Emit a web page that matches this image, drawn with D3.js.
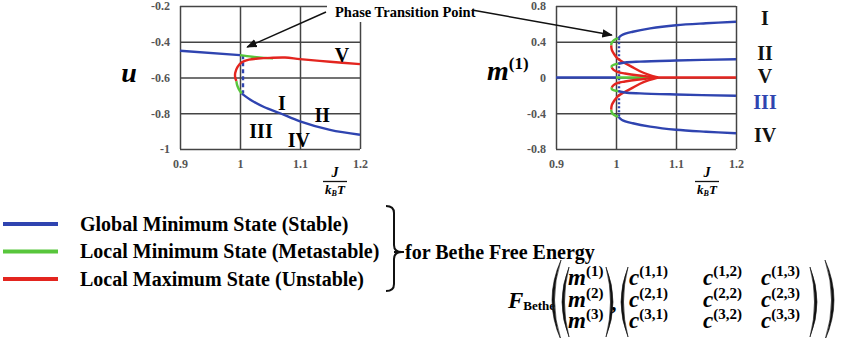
<!DOCTYPE html>
<html>
<head>
<meta charset="utf-8">
<script src="https://cdn.jsdelivr.net/npm/d3@7"></script>
<style>
  body { margin: 0; background: #fff; }
  svg { display: block; }
  text { font-family: "Liberation Serif", "Times New Roman", serif; }
  .tick text { font-size: 12px; font-weight: bold; fill: #555; font-family: "Liberation Serif", serif; }
  .tick line { stroke: #444; stroke-width: 1.5; }
</style>
</head>
<body>
<svg id="chart" width="853" height="338"></svg>
<script>
const xTicks = [0.9, 1, 1.1, 1.2];
const uTicks = [-1, -0.8, -0.6, -0.4, -0.2];
const mTicks = [-0.8, -0.4, 0, 0.4, 0.8];

// u vs J/kBT
const uStable = [[0.9, -0.45], [1.0, -0.475]];
const uStableOrdered = [[1.003, -0.69], [1.02, -0.73], [1.04, -0.765], [1.067, -0.8], [1.1, -0.845], [1.15, -0.893], [1.2, -0.92]];
const uMetaPara = [[1.0, -0.475], [1.02, -0.484], [1.04, -0.49], [1.055, -0.492]];
const uMetaOrdered = [[1.003, -0.69], [0.998, -0.665], [0.995, -0.64], [0.994, -0.62]];
const uUnstable = [[0.994, -0.62], [0.992, -0.6], [0.992, -0.575], [0.996, -0.54], [1.003, -0.515], [1.015, -0.5], [1.03, -0.494], [1.05, -0.49], [1.075, -0.488], [1.1, -0.497], [1.15, -0.512], [1.2, -0.525]];
const uJump = [[1.005, -0.475], [1.005, -0.69]];

// m(1) vs J/kBT
const mZeroStable = [[0.9, 0], [1.0, 0]];
const mZeroMeta = [[1.0, 0], [1.07, 0]];
const mZeroUnstable = [[1.07, 0], [1.2, 0]];
const mBranchI = [[1.004, 0.44], [1.01, 0.475], [1.028, 0.512], [1.057, 0.55], [1.1, 0.585], [1.15, 0.607], [1.2, 0.624]];
const mBranchII = [[1.004, 0.152], [1.015, 0.168], [1.04, 0.178], [1.1, 0.19], [1.2, 0.205]];
const mBranchIII = [[1.004, -0.152], [1.015, -0.168], [1.04, -0.178], [1.1, -0.19], [1.2, -0.205]];
const mBranchIV = [[1.004, -0.44], [1.01, -0.475], [1.028, -0.512], [1.057, -0.55], [1.1, -0.585], [1.15, -0.607], [1.2, -0.624]];
const mMetaI = [[1.004, 0.44], [0.997, 0.42], [0.993, 0.39], [0.992, 0.36]];
const mMetaII = [[1.004, 0.152], [0.997, 0.145], [0.993, 0.13], [0.993, 0.11]];
const mMetaIII = [[1.004, -0.152], [0.997, -0.145], [0.993, -0.13], [0.993, -0.11]];
const mMetaIV = [[1.004, -0.44], [0.997, -0.42], [0.993, -0.39], [0.992, -0.36]];
const mUnstA = [[0.992, 0.36], [0.993, 0.31], [0.997, 0.26], [1.003, 0.21], [1.012, 0.17], [1.025, 0.125], [1.04, 0.07], [1.055, 0.03], [1.07, 0]];
const mUnstB = [[0.993, 0.11], [0.996, 0.085], [1.003, 0.06], [1.015, 0.045], [1.035, 0.025], [1.055, 0.01], [1.07, 0]];
const mUnstC = [[0.993, -0.11], [0.996, -0.085], [1.003, -0.06], [1.015, -0.045], [1.035, -0.025], [1.055, -0.01], [1.07, 0]];
const mUnstD = [[0.992, -0.36], [0.993, -0.31], [0.997, -0.26], [1.003, -0.21], [1.012, -0.17], [1.025, -0.125], [1.04, -0.07], [1.055, -0.03], [1.07, 0]];
const mJump = [[1.005, 0.44], [1.005, -0.44]];

const leftLabels = [["V", 1.17, -0.513], ["I", 1.07, -0.782], ["II", 1.137, -0.849], ["III", 1.035, -0.938], ["IV", 1.098, -0.989]];
const rightLabels = [["I", 0.666], ["II", 0.274], ["V", 0.017], ["III", -0.274], ["IV", -0.643]];
const legendItems = ["Global Minimum State (Stable)", "Local Minimum State (Metastable)", "Local Maximum State (Unstable)"];

const blue = "#2f44b0", green = "#58c63c", red = "#e3251f";

const svg = d3.select("#chart");

const xL = d3.scaleLinear().domain([0.9, 1.2]).range([180, 360]);
const yL = d3.scaleLinear().domain([-1, -0.2]).range([149, 6]);
const xR = d3.scaleLinear().domain([0.9, 1.2]).range([556, 736]);
const yR = d3.scaleLinear().domain([-0.8, 0.8]).range([149, 6]);

function drawAxes(x, y, yt) {
    const g = svg.append("g");
    g.append("g")
        .attr("transform", `translate(0,${y.range()[0]})`)
        .call(d3.axisBottom(x).tickValues(xTicks).tickSize(-(y.range()[0] - y.range()[1])).tickPadding(10).tickFormat(d => String(d)))
        .call(a => a.select(".domain").remove());
    g.append("g")
        .attr("transform", `translate(${x.range()[0]},0)`)
        .call(d3.axisLeft(y).tickValues(yt).tickSize(-(x.range()[1] - x.range()[0])).tickPadding(10).tickFormat(d => String(d)))
        .call(a => a.select(".domain").remove());
}

drawAxes(xL, yL, uTicks);
drawAxes(xR, yR, mTicks);

function curves(x, y, sets, color, dash) {
    const line = d3.line().x(d => x(d[0])).y(d => y(d[1])).curve(d3.curveCatmullRom.alpha(0.5));
    svg.append("g").selectAll("path")
        .data(sets)
        .enter().append("path")
        .attr("d", line)
        .attr("fill", "none")
        .attr("stroke", color)
        .attr("stroke-width", 2.4)
        .attr("stroke-dasharray", dash || null);
}

// left panel
curves(xL, yL, [uJump], blue, "4,3");
curves(xL, yL, [uMetaPara, uMetaOrdered], green);
curves(xL, yL, [uUnstable], red);
curves(xL, yL, [uStable, uStableOrdered], blue);

// right panel
curves(xR, yR, [mJump], blue, "2,2");
curves(xR, yR, [mZeroMeta, mMetaI, mMetaII, mMetaIII, mMetaIV], green);
curves(xR, yR, [mZeroUnstable, mUnstA, mUnstB, mUnstC, mUnstD], red);
curves(xR, yR, [mZeroStable, mBranchI, mBranchII, mBranchIII, mBranchIV], blue);

// roman labels
svg.append("g").selectAll("text")
    .data(leftLabels)
    .enter().append("text")
    .attr("x", d => xL(d[1]))
    .attr("y", d => yL(d[2]))
    .attr("text-anchor", "middle")
    .attr("font-size", 20)
    .attr("font-weight", "bold")
    .text(d => d[0]);

svg.append("g").selectAll("text")
    .data(rightLabels)
    .enter().append("text")
    .attr("x", 765)
    .attr("y", d => yR(d[1]) + 7)
    .attr("text-anchor", "middle")
    .attr("font-size", 20)
    .attr("font-weight", "bold")
    .attr("fill", d => d[0] === "III" ? "#2f44b0" : "#111")
    .text(d => d[0]);

// axis titles
svg.append("text").attr("x", 129).attr("y", 82).attr("text-anchor", "middle")
    .attr("font-size", 28).attr("font-weight", "bold").attr("font-style", "italic").text("u");

const mt = svg.append("text").attr("x", 487).attr("y", 80).attr("font-weight", "bold");
mt.append("tspan").attr("font-size", 28).attr("font-style", "italic").text("m");
mt.append("tspan").attr("font-size", 17).attr("dy", -11).text("(1)");

function frac(cx) {
    const g = svg.append("g").attr("font-weight", "bold").attr("font-style", "italic");
    g.append("text").attr("x", cx).attr("y", 177).attr("text-anchor", "middle").attr("font-size", 14).text("J");
    g.append("line").attr("x1", cx - 12).attr("x2", cx + 12).attr("y1", 181.5).attr("y2", 181.5)
        .attr("stroke", "#111").attr("stroke-width", 1.3);
    const t = g.append("text").attr("x", cx).attr("y", 194).attr("text-anchor", "middle").attr("font-size", 13);
    t.append("tspan").text("k");
    t.append("tspan").attr("font-size", 8).attr("dy", 2).text("B");
    t.append("tspan").attr("dy", -2).text("T");
}
frac(335);
frac(707);

// phase transition label with arrows
svg.append("defs").append("marker")
    .attr("id", "arr").attr("viewBox", "0 0 10 10").attr("refX", 9).attr("refY", 5)
    .attr("markerWidth", 7).attr("markerHeight", 7).attr("orient", "auto-start-reverse")
    .append("path").attr("d", "M0,1 L10,5 L0,9 Z").attr("fill", "#111");

svg.append("rect").attr("x", 327).attr("y", 0).attr("width", 145).attr("height", 22).attr("fill", "#fff");
svg.append("text").attr("x", 335).attr("y", 17).attr("font-size", 14.5).attr("font-weight", "bold").text("Phase Transition Point");
svg.append("line").attr("x1", 326).attr("y1", 12).attr("x2", xL(1.012)).attr("y2", 47)
    .attr("stroke", "#111").attr("stroke-width", 1.5).attr("marker-end", "url(#arr)");
svg.append("line").attr("x1", 472).attr("y1", 10).attr("x2", xR(0.993)).attr("y2", 35)
    .attr("stroke", "#111").attr("stroke-width", 1.5).attr("marker-end", "url(#arr)");

// legend
const lg = svg.append("g").selectAll("g")
    .data(legendItems)
    .enter().append("g")
    .attr("transform", (d, i) => `translate(0,${224 + i * 27.5})`);
lg.append("line").attr("x1", 3).attr("x2", 58)
    .attr("stroke", (d, i) => [blue, green, red][i]).attr("stroke-width", 4);
lg.append("text").attr("x", 80).attr("y", 6.5).attr("font-size", 20).attr("font-weight", "bold").text(d => d);

svg.append("path")
    .attr("d", "M386,206 Q394,206 394,213 L394,245 Q394,252 402,252 Q394,252 394,259 L394,284 Q394,291 386,291 M394,252 L404,252")
    .attr("fill", "none").attr("stroke", "#111").attr("stroke-width", 2);
svg.append("text").attr("x", 405).attr("y", 259).attr("font-size", 20).attr("font-weight", "bold").text("for Bethe Free Energy");

// formula
const fg = svg.append("g").attr("font-weight", "bold");
const ft = fg.append("text").attr("x", 508).attr("y", 308);
ft.append("tspan").attr("font-size", 23).attr("font-style", "italic").text("F");
ft.append("tspan").attr("font-size", 13).attr("dy", 2).text("Bethe");

const rowsY = [285, 307, 328];
const cols = [629, 703, 761];
rowsY.forEach((y, i) => {
    const t = fg.append("text").attr("x", 568).attr("y", y);
    t.append("tspan").attr("font-size", 23).attr("font-style", "italic").text("m");
    t.append("tspan").attr("font-size", 15).attr("dy", -9).text(`(${i + 1})`);
    cols.forEach((x, j) => {
        const c = fg.append("text").attr("x", x).attr("y", y);
        c.append("tspan").attr("font-size", 23).attr("font-style", "italic").text("c");
        c.append("tspan").attr("font-size", 15).attr("dy", -9).text(`(${i + 1},${j + 1})`);
    });
});
fg.append("text").attr("x", 612).attr("y", 310).attr("font-size", 22).attr("font-style", "italic").text(",");

// parentheses as crescents: [x at ends, top, bottom, bulge direction, bulge size]
const parens = [[561, 260, 340, -1, 9], [569, 267, 337, -1, 7], [606, 267, 337, 1, 7],
                [628, 267, 337, -1, 7], [810, 267, 337, 1, 7], [825, 260, 340, 1, 9]];
fg.selectAll("path").data(parens).enter().append("path")
    .attr("d", ([x, t, b, s, k]) => {
        const m = (t + b) / 2;
        return `M${x},${t} Q${x + s * 2 * k},${m} ${x},${b} Q${x + s * (2 * k - 5)},${m} ${x},${t} Z`;
    })
    .attr("fill", "#111").attr("stroke", "#111").attr("stroke-width", 0.6);
</script>
</body>
</html>
